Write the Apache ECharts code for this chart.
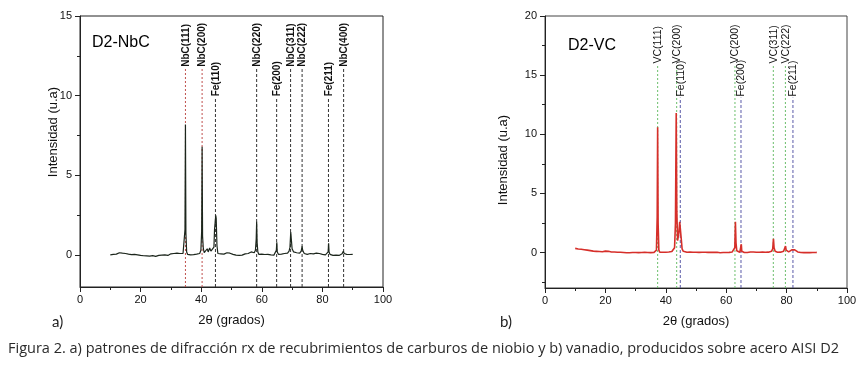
<!DOCTYPE html>
<html>
<head>
<meta charset="utf-8">
<script src="https://cdn.jsdelivr.net/npm/echarts@6/dist/echarts.min.js"></script>
<style>
  html, body { margin: 0; padding: 0; background: #fff; }
  #main { width: 862px; height: 371px; }
</style>
</head>
<body>
<div id="main"></div>
<script>
// 2θ (grados) vs intensidad
const nbcPattern = [
  [10,0.02],[10.5,0.1],[11,0.05],[11.5,0.12],[12,0.06],[12.5,0.1],[13,0.15],[13.5,0.08],[14,0.12],[14.5,0.05],
  [15,0.1],[15.5,0.14],[16,0.06],[16.5,0.1],[17,0.03],[17.5,0.09],[18,0.05],[18.5,0.1],[19,0.02],[19.5,0.06],
  [20,-0.02],[20.5,0.04],[21,-0.04],[21.5,0.02],[22,-0.05],[22.5,0.03],[23,-0.06],[23.5,0.0],[24,-0.03],[24.5,0.08],
  [25,-0.08],[25.5,0.02],[26,-0.02],[26.5,0.06],[27,0.0],[27.5,0.1],[28,0.02],[28.5,0.08],[29,-0.02],[29.5,0.05],
  [30,0.08],[30.5,0.02],[31,0.1],[31.5,0.05],[32,0.12],[32.5,0.04],[33,0.1],[33.5,0.15],[34,0.1],[34.4,0.2],
  [34.65,1.6],[34.8,8.2],[34.95,1.4],[35.2,0.2],[35.5,0.05],[36,-0.05],[36.5,0.02],[37,-0.04],[37.5,0.03],[38,0.0],
  [38.5,0.06],[39,0.02],[39.5,0.1],[39.9,0.3],[40.15,1.5],[40.3,6.8],[40.45,1.2],[40.7,0.4],[41,0.15],[41.5,0.25],
  [42,0.4],[42.3,0.2],[42.8,0.45],[43.2,0.25],[43.7,0.35],[44.2,0.5],[44.4,1.6],[44.6,1.7],[44.8,2.5],[44.95,2.3],
  [45.2,0.6],[45.5,0.1],[46,0.02],[46.5,0.08],[47,0.0],[47.5,0.06],[48,0.1],[48.5,0.15],[49,0.22],[49.5,0.12],
  [50,0.2],[50.5,0.05],[51,0.1],[51.5,0.0],[52,0.06],[52.5,-0.02],[53,0.05],[53.5,0.0],[54,0.04],[54.5,0.08],
  [55,0.02],[55.5,0.1],[56,0.12],[56.5,0.2],[57,0.1],[57.5,0.15],[57.9,0.3],[58.15,1.0],[58.3,2.1],[58.45,0.8],
  [58.7,0.2],[59,0.05],[59.5,0.0],[60,0.06],[60.5,-0.02],[61,0.04],[61.5,0.0],[62,0.05],[62.5,-0.03],[63,0.02],
  [63.5,0.05],[64,0.0],[64.5,0.08],[64.8,0.3],[64.95,0.8],[65.1,0.2],[65.5,0.05],[66,0.12],[66.5,0.06],[67,0.15],
  [67.5,0.1],[68,0.18],[68.5,0.12],[69,0.25],[69.3,0.5],[69.55,1.45],[69.75,1.0],[70,0.4],[70.5,0.2],[71,0.1],
  [71.5,0.15],[72,0.08],[72.5,0.12],[73,0.25],[73.3,0.55],[73.5,0.3],[74,0.1],[74.5,0.18],[75,0.05],[75.5,0.15],
  [76,0.1],[76.5,0.2],[77,0.08],[77.5,0.18],[78,0.12],[78.5,0.2],[79,0.1],[79.5,0.15],[80,0.05],[80.5,0.1],
  [81,0.02],[81.5,0.08],[81.9,0.2],[82.05,0.75],[82.2,0.2],[82.5,0.05],[83,0.02],[83.5,-0.02],[84,0.05],[84.5,0.0],
  [85,0.04],[85.5,-0.02],[86,0.03],[86.5,0.08],[86.9,0.25],[87.2,0.1],[87.5,0.0],[88,0.05],[88.5,-0.02],[89,0.04],
  [89.5,0.0],[90,0.05]
];

const vcPattern = [
  [10,0.35],[10.5,0.25],[11,0.3],[11.5,0.22],[12,0.28],[12.5,0.2],[13,0.24],[13.5,0.18],[14,0.2],[14.5,0.15],
  [15,0.16],[15.5,0.1],[16,0.12],[16.5,0.08],[17,0.1],[17.5,0.05],[18,0.08],[18.5,0.04],[19,0.06],[19.5,0.08],
  [20,0.12],[20.5,0.15],[21,0.1],[21.5,0.06],[22,0.04],[22.5,0.02],[23,0.04],[23.5,0.0],[24,0.02],[24.5,-0.02],
  [25,0.02],[25.5,-0.03],[26,0.0],[26.5,-0.04],[27,-0.02],[27.5,-0.05],[28,-0.02],[28.5,-0.04],[29,0.0],[29.5,-0.03],
  [30,0.0],[30.5,-0.04],[31,-0.01],[31.5,-0.03],[32,0.0],[32.5,-0.02],[33,0.02],[33.5,-0.02],[34,0.0],[34.5,0.02],
  [35,-0.01],[35.5,0.02],[36,0.0],[36.5,0.03],[36.9,0.2],[37.15,3.0],[37.3,10.6],[37.45,2.5],[37.7,0.2],[38,0.02],
  [38.5,0.0],[39,0.02],[39.5,-0.01],[40,0.02],[40.5,0.0],[41,0.04],[41.5,0.06],[42,0.08],[42.5,0.15],[42.9,0.4],
  [43.2,2.5],[43.45,11.8],[43.65,3.5],[43.9,1.0],[44.3,1.6],[44.6,2.6],[44.8,2.7],[45.1,1.2],[45.4,0.3],[45.8,0.1],
  [46.3,0.04],[47,0.02],[47.5,0.0],[48,0.03],[48.5,-0.01],[49,0.02],[49.5,0.0],[50,0.02],[50.5,-0.02],[51,0.01],
  [51.5,-0.01],[52,0.02],[52.5,0.0],[53,0.02],[53.5,-0.02],[54,0.01],[54.5,0.0],[55,0.02],[55.5,-0.01],[56,0.01],
  [56.5,0.0],[57,0.02],[57.5,0.0],[58,-0.02],[58.5,0.01],[59,0.0],[59.5,0.02],[60,0.0],[60.5,0.03],[61,0.01],
  [61.5,0.04],[62,0.05],[62.5,0.1],[62.85,0.4],[63.05,2.6],[63.25,0.8],[63.5,0.15],[64,0.05],[64.5,0.02],[64.85,0.1],
  [65.0,0.7],[65.15,0.1],[65.5,0.02],[66,0.0],[66.5,0.03],[67,0.0],[67.5,0.02],[68,0.05],[68.5,0.02],[69,0.04],
  [69.5,0.0],[70,0.02],[70.5,-0.01],[71,0.02],[71.5,0.0],[72,0.03],[72.5,0.0],[73,0.02],[73.5,0.05],[74,0.03],
  [74.5,0.06],[75,0.1],[75.4,0.3],[75.65,1.15],[75.85,0.4],[76.2,0.1],[76.5,0.04],[77,0.02],[77.5,0.05],[78,0.03],
  [78.5,0.06],[79,0.1],[79.4,0.2],[79.65,0.55],[79.85,0.2],[80.2,0.08],[80.7,0.05],[81.2,0.1],[81.7,0.22],[82.2,0.3],
  [82.7,0.22],[83.2,0.1],[83.7,0.05],[84.2,0.02],[84.7,0.0],[85.2,0.02],[85.7,-0.01],[86.2,0.01],[86.7,0.0],[87.2,0.02],
  [87.7,-0.01],[88.2,0.01],[88.7,0.0],[89.2,0.02],[89.7,0.0],[90,0.01]
];

// reference reflections
const nbcRefNames = ['NbC(111)', 'NbC(200)', 'Fe(110)', 'NbC(220)', 'Fe(200)', 'NbC(311)', 'NbC(222)', 'Fe(211)', 'NbC(400)'];
const nbcRefAngles = [34.8, 40.3, 44.7, 58.3, 64.9, 69.5, 73.3, 82.0, 87.0];
const vcRefNames = ['VC(111)', 'VC(200)', 'Fe(110)', 'VC(200)', 'Fe(200)', 'VC(311)', 'VC(222)', 'Fe(211)'];
const vcRefAngles = [37.3, 43.6, 44.8, 62.9, 64.9, 75.6, 79.6, 82.1];

// axis ranges and tick values
const xTicks = { min: 0, max: 100, interval: 20 };
const nbcY = { min: -2, max: 15 };
const nbcYTicks = [0, 5, 10, 15];
const nbcYMinor = [2.5, 7.5, 12.5];
const vcY = { min: -3, max: 20 };
const vcYTicks = [0, 5, 10, 15, 20];
const vcYMinor = [-2.5, 2.5, 7.5, 12.5, 17.5];

const FONT = 'Arial, "Liberation Sans", sans-serif';

function xAxisFor(idx) {
  return {
    gridIndex: idx, type: 'value', min: xTicks.min, max: xTicks.max, interval: xTicks.interval,
    name: '2θ (grados)', nameLocation: 'middle', nameGap: 27,
    nameTextStyle: { fontFamily: FONT, fontSize: 13, color: '#111' },
    axisLine: { onZero: false, lineStyle: { color: '#222', width: 1 } },
    axisTick: { length: 5, lineStyle: { color: '#222' } },
    minorTick: { show: true, splitNumber: 2, length: 3, lineStyle: { color: '#222' } },
    axisLabel: { fontFamily: FONT, fontSize: 11, color: '#111', margin: 7 },
    splitLine: { show: false }
  };
}

function yAxisFor(idx, r, ticks) {
  return {
    gridIndex: idx, type: 'value', min: r.min, max: r.max,
    axisLine: { show: true, onZero: false, lineStyle: { color: '#222', width: 1 } },
    axisTick: { show: true, length: 5, customValues: ticks, lineStyle: { color: '#222' } },
    axisLabel: { fontFamily: FONT, fontSize: 11, color: '#111', margin: 8, customValues: ticks },
    splitLine: { show: false }
  };
}

// second y axis on the same grid, only for the short minor ticks
function yMinorFor(idx, r, minor) {
  return {
    gridIndex: idx, type: 'value', min: r.min, max: r.max, position: 'left',
    axisLine: { show: false, onZero: false },
    axisTick: { show: true, length: 3, customValues: minor, lineStyle: { color: '#222' } },
    axisLabel: { show: false },
    splitLine: { show: false }
  };
}

// dashed reference line from the bottom of the plot, label standing on top of it
function refSeries(idx, names, angles, yMin, styleOf) {
  return {
    type: 'custom', xAxisIndex: idx, yAxisIndex: idx, silent: true, z: 1,
    data: angles.map((a, i) => [a, styleOf(names[i]).top]),
    encode: { x: 0, y: 1 },
    renderItem: function (params, api) {
      const name = names[params.dataIndex];
      const st = styleOf(name);
      const p0 = api.coord([api.value(0), yMin]);
      const p1 = api.coord([api.value(0), api.value(1)]);
      return {
        type: 'group',
        children: [
          { type: 'line', shape: { x1: p0[0], y1: p0[1], x2: p1[0], y2: p1[1] },
            style: { stroke: st.color, lineWidth: 1, lineDash: st.dash } },
          { type: 'text', x: p1[0] + 0.5, y: p1[1] - 1, rotation: Math.PI / 2,
            style: { text: name, align: 'left', verticalAlign: 'middle',
              font: st.font, fill: '#111' } }
        ]
      };
    }
  };
}

const nbcStyle = name => name.indexOf('Fe') === 0
  ? { top: 9.9, color: '#333', dash: [3, 2], font: 'bold 10px ' + FONT }
  : (name === 'NbC(111)' || name === 'NbC(200)')
    ? { top: 11.75, color: '#c0504d', dash: [2, 2], font: 'bold 10px ' + FONT }
    : { top: 11.75, color: '#333', dash: [3, 2], font: 'bold 10px ' + FONT };

const vcStyle = name => name.indexOf('Fe') === 0
  ? { top: 13.1, color: '#5a5aa8', dash: [3, 2], font: '10.5px ' + FONT }
  : { top: 15.9, color: '#6cbf6c', dash: [2, 2], font: '10.5px ' + FONT };

const chart = echarts.init(document.getElementById('main'));

const option = {
  backgroundColor: '#fff',
  animation: false,
  grid: [
    { left: 80, top: 16, width: 303, height: 271, show: true, borderColor: '#222', borderWidth: 1, containLabel: false },
    { left: 545, top: 16, width: 302, height: 272, show: true, borderColor: '#444', borderWidth: 1, containLabel: false }
  ],
  xAxis: [xAxisFor(0), xAxisFor(1)],
  yAxis: [
    yAxisFor(0, nbcY, nbcYTicks), yAxisFor(1, vcY, vcYTicks),
    yMinorFor(0, nbcY, nbcYMinor), yMinorFor(1, vcY, vcYMinor)
  ],
  series: [
    refSeries(0, nbcRefNames, nbcRefAngles, nbcY.min, nbcStyle),
    refSeries(1, vcRefNames, vcRefAngles, vcY.min, vcStyle),
    {
      type: 'line', xAxisIndex: 0, yAxisIndex: 0, data: nbcPattern, showSymbol: false,
      lineStyle: { color: '#1c261c', width: 1.2 }, z: 3
    },
    {
      type: 'line', xAxisIndex: 1, yAxisIndex: 1, data: vcPattern, showSymbol: false,
      lineStyle: { color: '#d62f2a', width: 1.6 }, z: 3
    }
  ],
  graphic: [
    { type: 'text', x: 53, y: 132, rotation: Math.PI / 2,
      style: { text: 'Intensidad (u.a)', align: 'center', verticalAlign: 'middle', font: '13px ' + FONT, fill: '#111' } },
    { type: 'text', x: 503, y: 160, rotation: Math.PI / 2,
      style: { text: 'Intensidad (u.a)', align: 'center', verticalAlign: 'middle', font: '13px ' + FONT, fill: '#111' } },
    { type: 'text', x: 92, y: 43,
      style: { text: 'D2-NbC', align: 'left', verticalAlign: 'middle', font: '16px ' + FONT, fill: '#000' } },
    { type: 'text', x: 568, y: 46,
      style: { text: 'D2-VC', align: 'left', verticalAlign: 'middle', font: '16px ' + FONT, fill: '#000' } },
    { type: 'text', x: 52, y: 322,
      style: { text: 'a)', align: 'left', verticalAlign: 'middle', font: '15px Lato, "Open Sans", sans-serif', fill: '#222' } },
    { type: 'text', x: 500, y: 322,
      style: { text: 'b)', align: 'left', verticalAlign: 'middle', font: '15px Lato, "Open Sans", sans-serif', fill: '#222' } },
    { type: 'text', x: 8, y: 349,
      style: { text: 'Figura 2. a) patrones de difracción rx de recubrimientos de carburos de niobio y b) vanadio, producidos sobre acero AISI D2',
        align: 'left', verticalAlign: 'middle', font: '14.5px "Open Sans", Lato, sans-serif', fill: '#2a2a2a' } }
  ]
};

chart.setOption(option);
</script>
</body>
</html>
